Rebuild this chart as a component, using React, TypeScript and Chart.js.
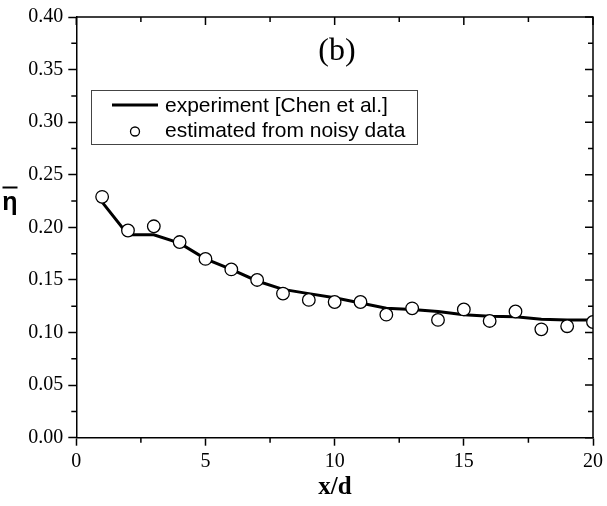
import React, { useEffect, useRef } from 'react';
import Chart from 'chart.js/auto';

// x/d stations
const xPositions = [1, 2, 3, 4, 5, 6, 7, 8, 9, 10, 11, 12, 13, 14, 15, 16, 17, 18, 19, 20];
// experiment [Chen et al.]
const experiment = [0.224, 0.193, 0.193, 0.185, 0.170, 0.160, 0.149, 0.141, 0.137, 0.133, 0.128, 0.123, 0.122, 0.120, 0.117, 0.1155, 0.115, 0.1126, 0.112, 0.112];
// estimated from noisy data
const estimated = [0.229, 0.197, 0.201, 0.186, 0.170, 0.160, 0.150, 0.137, 0.131, 0.129, 0.129, 0.117, 0.123, 0.112, 0.122, 0.111, 0.120, 0.103, 0.106, 0.110];

const xTicks = [0, 5, 10, 15, 20];
const yTicks = [0, 0.05, 0.1, 0.15, 0.2, 0.25, 0.3, 0.35, 0.4];

const serif = '"Liberation Serif", "Times New Roman", serif';
const sans = '"Liberation Sans", Arial, sans-serif';

const extras = {
  id: 'extras',
  afterDraw(chart: any) {
    const { ctx, chartArea: a, scales } = chart;
    const xs = scales.x;
    const ys = scales.y;
    ctx.save();
    ctx.strokeStyle = '#000';
    ctx.lineWidth = 1.5;

    // top and right frame
    ctx.beginPath();
    ctx.moveTo(a.left, a.top);
    ctx.lineTo(a.right, a.top);
    ctx.lineTo(a.right, a.bottom);
    ctx.stroke();

    ctx.beginPath();
    // x minor (bottom outward) and top ticks (inward)
    for (let v = 0; v <= 20; v += 2.5) {
      const px = xs.getPixelForValue(v);
      const major = v % 5 === 0;
      if (!major) {
        ctx.moveTo(px, a.bottom);
        ctx.lineTo(px, a.bottom + 5);
      }
      ctx.moveTo(px, a.top);
      ctx.lineTo(px, a.top + (major ? 8 : 5));
    }
    // y minor (left outward) and right ticks (inward)
    for (let i = 0; i <= 16; i++) {
      const v = i * 0.025;
      const py = ys.getPixelForValue(v);
      const major = i % 2 === 0;
      if (!major) {
        ctx.moveTo(a.left, py);
        ctx.lineTo(a.left - 5, py);
      }
      ctx.moveTo(a.right, py);
      ctx.lineTo(a.right - (major ? 8 : 5), py);
    }
    ctx.stroke();

    // panel label
    ctx.fillStyle = '#000';
    ctx.font = `32px ${serif}`;
    ctx.textAlign = 'center';
    ctx.textBaseline = 'middle';
    ctx.fillText('(b)', 337, 52);

    // axis titles
    ctx.font = `bold 25px ${serif}`;
    ctx.fillText('x/d', 335, 488);
    ctx.font = `bold 25px ${sans}`;
    ctx.textBaseline = 'alphabetic';
    ctx.fillText('η', 10, 210);
    ctx.lineWidth = 2;
    ctx.beginPath();
    ctx.moveTo(2.5, 187.5);
    ctx.lineTo(17.5, 187.5);
    ctx.stroke();

    // legend
    ctx.lineWidth = 1;
    ctx.strokeStyle = '#444';
    ctx.strokeRect(91.5, 90.5, 326, 54);
    ctx.strokeStyle = '#000';
    ctx.lineWidth = 3;
    ctx.beginPath();
    ctx.moveTo(112, 105);
    ctx.lineTo(158, 105);
    ctx.stroke();
    ctx.lineWidth = 1.3;
    ctx.fillStyle = '#fff';
    ctx.beginPath();
    ctx.arc(135, 131.5, 4.5, 0, Math.PI * 2);
    ctx.fill();
    ctx.stroke();
    ctx.fillStyle = '#000';
    ctx.font = `21px ${sans}`;
    ctx.textAlign = 'left';
    ctx.textBaseline = 'middle';
    ctx.fillText('experiment [Chen et al.]', 165, 106);
    ctx.fillText('estimated from noisy data', 165, 131);
    ctx.restore();
  },
};

const App: React.FC = () => {
  const canvasRef = useRef<HTMLCanvasElement | null>(null);

  useEffect(() => {
    document.body.style.margin = '0';
    if (!canvasRef.current) return;
    const chart = new Chart(canvasRef.current, {
      type: 'scatter',
      data: {
        datasets: [
          {
            label: 'estimated from noisy data',
            data: xPositions.map((x, i) => ({ x, y: estimated[i] })),
            pointRadius: 6.3,
            pointBorderWidth: 1.3,
            pointBackgroundColor: '#fff',
            pointBorderColor: '#000',
            showLine: false,
            clip: 0,
            order: 0,
          },
          {
            label: 'experiment [Chen et al.]',
            data: xPositions.map((x, i) => ({ x, y: experiment[i] })),
            showLine: true,
            borderColor: '#000',
            borderWidth: 3,
            pointRadius: 0,
            tension: 0,
            order: 1,
          },
        ],
      },
      options: {
        responsive: false,
        animation: false,
        layout: { padding: { top: 16, right: 13.7, left: 0, bottom: 0 } },
        plugins: { legend: { display: false }, tooltip: { enabled: false } },
        scales: {
          x: {
            type: 'linear',
            min: 0,
            max: 20,
            afterFit: (s: any) => { s.height = 68.3; },
            afterBuildTicks: (s: any) => { s.ticks = xTicks.map((value) => ({ value })); },
            grid: { drawOnChartArea: false, tickLength: 8, tickWidth: 1.5, tickColor: '#000' },
            border: { display: true, color: '#000', width: 1.5 },
            ticks: { color: '#000', font: { family: serif, size: 20 }, padding: 4, maxRotation: 0 },
          },
          y: {
            type: 'linear',
            min: 0,
            max: 0.4,
            afterFit: (s: any) => { s.width = 76.3; },
            afterBuildTicks: (s: any) => { s.ticks = yTicks.map((value) => ({ value })); },
            grid: { drawOnChartArea: false, tickLength: 8, tickWidth: 1.5, tickColor: '#000' },
            border: { display: true, color: '#000', width: 1.5 },
            ticks: {
              color: '#000',
              font: { family: serif, size: 20 },
              padding: 5,
              callback: (v: any) => Number(v).toFixed(2),
            },
          },
        },
      },
      plugins: [extras],
    });
    return () => chart.destroy();
  }, []);

  return (
    <div style={{ width: 607, height: 506, background: '#fff' }}>
      <canvas ref={canvasRef} width={607} height={506} style={{ display: 'block' }} />
    </div>
  );
};

export default App;
